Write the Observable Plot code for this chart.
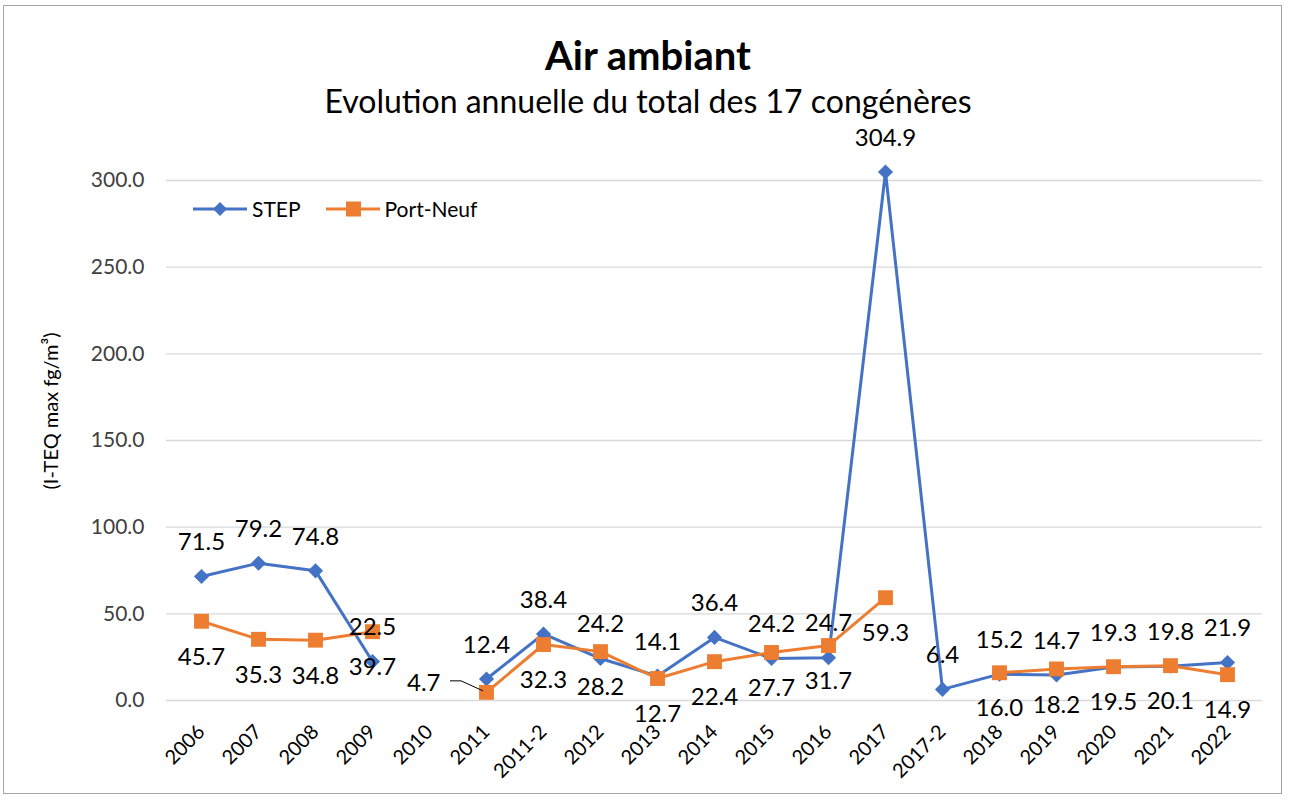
<!DOCTYPE html>
<html><head><meta charset="utf-8">
<script src="https://cdn.jsdelivr.net/npm/d3@7"></script>
<script src="https://cdn.jsdelivr.net/npm/@observablehq/plot@0.6"></script>
<style>
body{margin:0;background:#fff;font-family:Lato,"Noto Sans",sans-serif;}
#page{position:relative;width:1290px;height:801px;overflow:hidden;}
#frame{position:absolute;left:3px;top:5px;width:1279px;height:789px;border:1px solid #a6a6a6;box-sizing:border-box;}
#title{position:absolute;left:0;top:33px;width:1296px;text-align:center;font-weight:bold;font-size:40px;color:#000;line-height:44px;}
#subtitle{position:absolute;left:0;top:82px;width:1296px;text-align:center;font-size:32px;color:#000;line-height:38px;}
#chart{position:absolute;left:0;top:130px;}
#ylabel{position:absolute;left:50px;top:411px;transform:translate(-50%,-50%) rotate(-90deg);white-space:nowrap;font-size:20px;color:#000;}
#legend{position:absolute;left:193px;top:196px;display:flex;align-items:center;font-size:21px;color:#000;}
#legend .item{display:flex;align-items:center;margin-right:25px;}
#legend svg{margin-right:4px;}
</style>
</head><body>
<div id="page">
  <div id="frame"></div>
  <div id="title">Air ambiant</div>
  <div id="subtitle">Evolution annuelle du total des 17 congénères</div>
  <div id="chart"></div>
  <div id="ylabel"></div>
  <div id="legend"></div>
</div>
<script>
const categories = ["2006","2007","2008","2009","2010","2011","2011-2","2012","2013","2014","2015","2016","2017","2017-2","2018","2019","2020","2021","2022"];
const stepValues = [71.5,79.2,74.8,22.5,null,12.4,38.4,24.2,14.1,36.4,24.2,24.7,304.9,6.4,15.2,14.7,19.3,19.8,21.9];
const portNeufValues = [45.7,35.3,34.8,39.7,null,4.7,32.3,28.2,12.7,22.4,27.7,31.7,59.3,null,16.0,18.2,19.5,20.1,14.9];
const yTicks = [0,50,100,150,200,250,300];
const seriesNames = ["STEP","Port-Neuf"];
const seriesColors = ["#4472C4","#ED7D31"];
const yLabel = "(I-TEQ max fg/m³)";

document.getElementById("ylabel").textContent = yLabel;

const stepData = categories.map((c,i)=>({cat:c, value: stepValues[i]}));
const pnData = categories.map((c,i)=>({cat:c, value: portNeufValues[i]}));
const stepDef = stepData.filter(d=>d.value!=null);
const pnDef = pnData.filter(d=>d.value!=null);
// labels that collide with the axis get a callout to the left
const pnCallout = pnDef.filter(d=>d.value<8);
const pnNormal = pnDef.filter(d=>d.value>=8);
const fmt = d3.format(".1f");

function leader(rows){
  return (index, scales) => {
    const g = d3.create("svg:g");
    for (const d of rows){
      const x = scales.x(d.cat), y = scales.y(d.value);
      g.append("path").attr("d", `M${x-36},${y-11}L${x-25},${y-11}L${x-3},${y-1}`)
        .attr("fill","none").attr("stroke","#000").attr("stroke-width",1);
    }
    return g.node();
  };
}

const chart = Plot.plot({
  width: 1290,
  height: 660,
  marginTop: 50,
  marginBottom: 90,
  marginLeft: 166,
  marginRight: 28,
  style: {fontFamily: "Lato, 'Noto Sans', sans-serif", background: "transparent", overflow: "visible", color: "#404040"},
  x: {type: "point", domain: categories, padding: 0.5, axis: null},
  y: {domain: [0, 300]},
  marks: [
    Plot.gridY(yTicks, {stroke: "#d9d9d9", strokeOpacity: 1, strokeWidth: 1.3}),
    Plot.axisY(yTicks, {tickFormat: fmt, tickSize: 0, tickPadding: 22, fontSize: 21, label: null}),
    Plot.text(categories, {x: d=>d, frameAnchor: "bottom", dy: 28, rotate: -45, textAnchor: "end", lineAnchor: "middle", fontSize: 20, fill: "#000"}),
    Plot.line(stepData, {x: "cat", y: "value", stroke: seriesColors[0], strokeWidth: 3}),
    Plot.dot(stepDef, {x: "cat", y: "value", symbol: "diamond2", r: 6.8, fill: seriesColors[0], stroke: "none"}),
    Plot.line(pnData, {x: "cat", y: "value", stroke: seriesColors[1], strokeWidth: 3}),
    Plot.dot(pnDef, {x: "cat", y: "value", symbol: "square", r: 8.4, fill: seriesColors[1], stroke: "none"}),
    Plot.text(stepDef, {x: "cat", y: "value", text: d=>fmt(d.value), dy: -34, fontSize: 24, fill: "#000"}),
    Plot.text(pnNormal, {x: "cat", y: "value", text: d=>fmt(d.value), dy: 36, fontSize: 24, fill: "#000"}),
    Plot.text(pnCallout, {x: "cat", y: "value", text: d=>fmt(d.value), dx: -46, dy: -9, textAnchor: "end", fontSize: 24, fill: "#000"}),
    leader(pnCallout)
  ]
});
document.getElementById("chart").appendChild(chart);

// legend
const legend = document.getElementById("legend");
seriesNames.forEach((name,i)=>{
  const item = document.createElement("div");
  item.className = "item";
  const sym = i===0
    ? `<path d="M27,4L34,11L27,18L20,11Z" fill="${seriesColors[0]}"/>`
    : `<rect x="20" y="3.5" width="15" height="15" fill="${seriesColors[1]}"/>`;
  item.innerHTML = `<svg width="55" height="22"><line x1="0" x2="54" y1="11" y2="11" stroke="${seriesColors[i]}" stroke-width="3"/>${sym}</svg><span>${name}</span>`;
  legend.appendChild(item);
});
</script>
</body></html>
